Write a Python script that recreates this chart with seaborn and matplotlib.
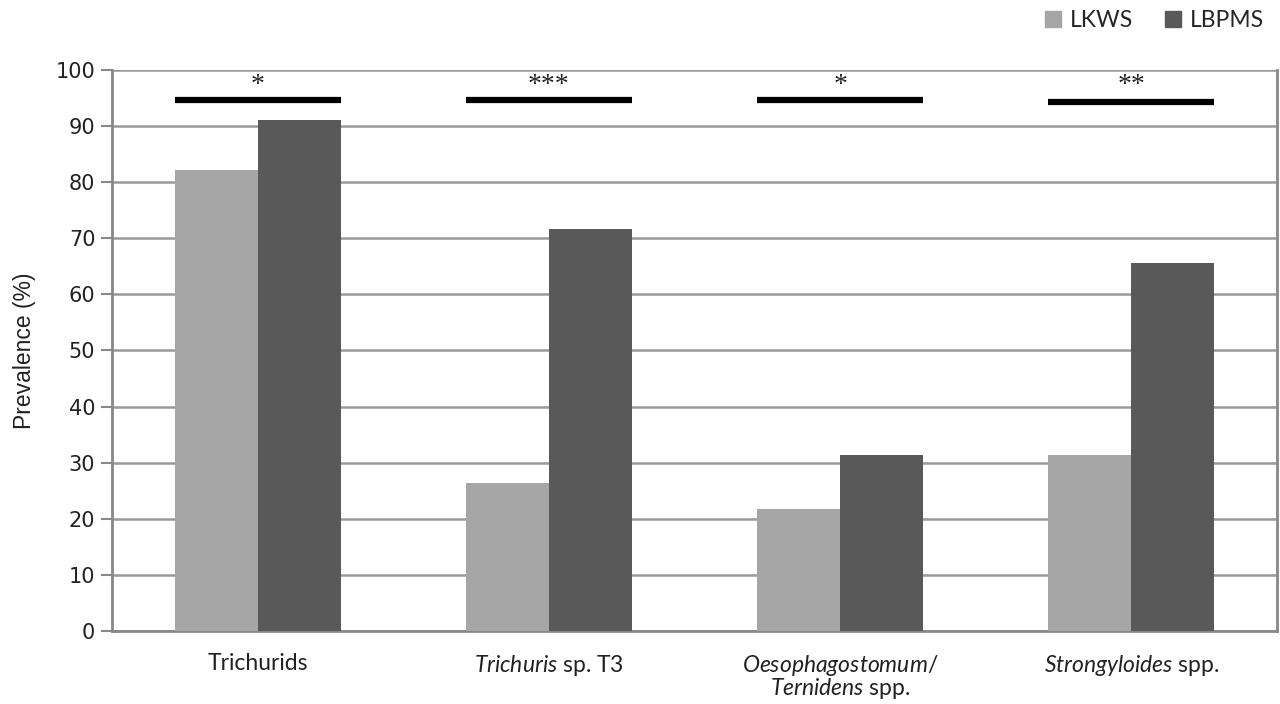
import seaborn as sns
import pandas as pd
import numpy as np
from matplotlib import pyplot as plt

# values
categories = ['Trichurids', 'Trichuris sp. T3', 'Oesophagostomum/Ternidens spp.', 'Strongyloides spp.']
tick_labels = ['Trichurids',
               r'$\it{Trichuris}$ sp. T3',
               r'$\it{Oesophagostomum/}$' + '\n' + r'$\it{Ternidens}$ spp.',
               r'$\it{Strongyloides}$ spp.']
lkws = [82.2, 26.4, 21.7, 31.3]
lbpms = [91.1, 71.7, 31.3, 65.6]
sig_stars = ['*', '***', '*', '**']
sig_line_y = [94.6, 94.6, 94.6, 94.3]

df = pd.DataFrame({
    'Category': categories * 2,
    'Prevalence': lkws + lbpms,
    'Site': ['LKWS'] * 4 + ['LBPMS'] * 4,
})

sns.set_style('white')
plt.rcParams['font.family'] = ['Lato', 'DejaVu Sans']
plt.rcParams['mathtext.fontset'] = 'custom'
plt.rcParams['mathtext.rm'] = 'Lato'
plt.rcParams['mathtext.it'] = 'Lato:italic'

fig = plt.figure(figsize=(12.8, 7.04), dpi=100)
ax = fig.add_axes([0.0875, 0.1037, 0.9102, 0.7969])

palette = {'LKWS': '#a6a6a6', 'LBPMS': '#595959'}
bar_width = 0.57
sns.barplot(data=df, x='Category', y='Prevalence', hue='Site', palette=palette,
            width=bar_width, saturation=1, ax=ax, legend=False, zorder=3, linewidth=0)

# significance bars and stars
for i, (stars, ly) in enumerate(zip(sig_stars, sig_line_y)):
    ax.hlines(ly, i - bar_width / 2, i + bar_width / 2, color='black', lw=4.5, zorder=4)
    ax.text(i, 97.3, stars, ha='center', va='center', fontsize=20,
            family='Liberation Serif', color='#222222')

ax.set_xlim(-0.5, 3.5)
ax.set_ylim(0, 100)
ax.set_yticks(np.arange(0, 101, 10))
ax.set_yticklabels([str(v) for v in range(0, 101, 10)], family='DejaVu Sans', fontsize=15, color='#222222')
ax.set_xticks(range(4))
ax.set_xticklabels(tick_labels, fontsize=16.5, color='#222222', va='top', linespacing=0.9)
ax.set_xticks(np.arange(-0.5, 4, 1), minor=True)
ax.tick_params(axis='x', which='major', length=0, pad=16)
ax.tick_params(axis='x', which='minor', length=8, width=1.5, color='#888888', direction='out')
ax.tick_params(axis='y', length=8, width=1.5, color='#888888', direction='out', left=True, pad=4)

ax.grid(axis='y', color='#999999', lw=1.8, zorder=0)
ax.set_axisbelow(True)
for side in ['left', 'bottom', 'right']:
    ax.spines[side].set_color('#888888')
    ax.spines[side].set_linewidth(2)
ax.spines['top'].set_visible(False)

ax.set_xlabel('')
ax.set_ylabel('Prevalence (%)', fontsize=16.5, family='Liberation Sans', color='#222222', labelpad=14)

handles = [plt.Rectangle((0, 0), 1, 1, color=palette[k]) for k in ['LKWS', 'LBPMS']]
fig.legend(handles, ['LKWS', 'LBPMS'], loc='upper right', bbox_to_anchor=(1.004, 1.015), ncol=2,
           frameon=False, fontsize=16.5, handlelength=0.7, handleheight=0.7, handletextpad=0.4,
           columnspacing=1.4)

plt.savefig('out.png', dpi=100)
